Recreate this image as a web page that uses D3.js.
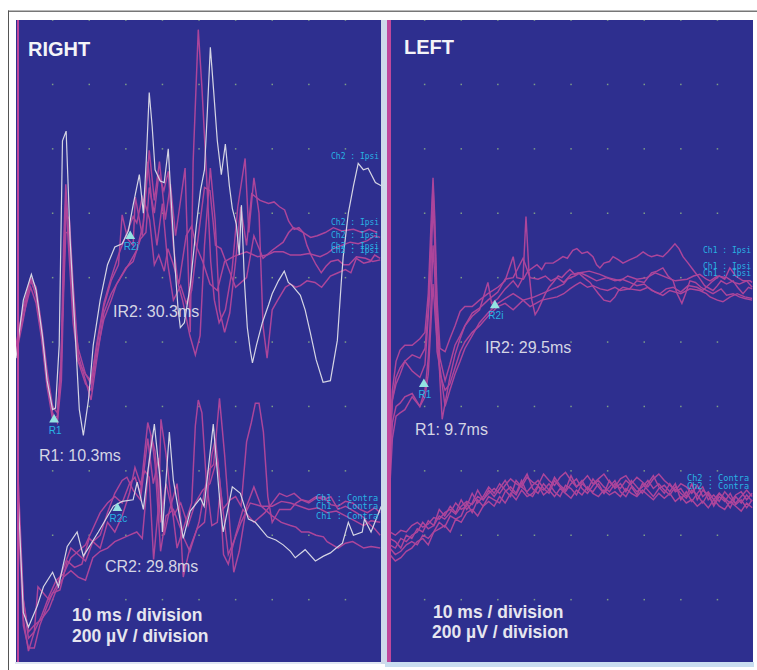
<!DOCTYPE html>
<html>
<head>
<meta charset="utf-8">
<script src="https://cdn.jsdelivr.net/npm/d3@7"></script>
<style>
body { margin: 0; background: #fff; }
text { font-family: "Liberation Sans", Arial, sans-serif; }
</style>
</head>
<body>
<svg class="chart" width="757" height="670"></svg>
<script>
// every trace is [ms, uV]
var divisionsX = [0,10,20,30,40,50,60,70,80,90,100];
var divisionsY = [1000,800,600,400,200,0,-200,-400,-600,-800];

var rightIpsiWhite = [[0,-50],[2,130],[4.2,210],[5.5,160],[7.2,20],[8.5,-120],[10,-210],[10.8,-205],[11.8,-10],[12.7,625],[13.7,655],[14.8,315],[16.2,20],[17.3,-210],[18.4,-290],[19.8,-180],[21.1,-10],[23,130],[25,240],[27,295],[29,305],[30.7,345],[32,425],[33.7,520],[34.8,400],[35.6,565],[36.4,775],[37.2,670],[38,535],[39.4,500],[40.5,495],[41.6,600],[42.4,440],[43.5,225],[44.3,100],[44.9,45],[46,60],[47.6,175],[49.3,365],[50.4,470],[51.5,535],[52.3,720],[53.1,915],[54,780],[55,625],[56.1,520],[57.2,615],[58.3,485],[59.1,415],[60.2,365],[61,270],[61.6,425],[62.4,190],[63.2,45],[64,-25],[64.6,-65],[65.7,-10],[67.3,60],[69,115],[70,150],[71.7,190],[73.3,220],[74.4,185],[75.5,175],[77.7,145],[79,100],[80.4,30],[82,-55],[83.9,-125],[85.9,-120],[87.8,5],[88.9,190],[89.4,265],[90.8,400],[92.2,485],[93.5,555],[94.9,535],[96.2,540],[98.2,495],[99.8,485]];
var rightIpsi1 = [[0,-20],[2,100],[4,190],[5.5,150],[7,30],[8.5,-110],[10,-230],[11.3,-240],[12.3,-80],[13,300],[13.6,490],[14.6,300],[15.6,100],[17,-20],[19,-100],[20.5,-120],[22,-20],[24,110],[26,190],[28,240],[29,395],[30.5,320],[32,300],[32.6,450],[34.5,330],[36.4,595],[37.8,440],[39.2,560],[40.8,380],[42.2,490],[43.6,330],[46.2,540],[47.6,30],[48.4,560],[49.8,970],[50.8,790],[52,530],[53.2,250],[54.2,130],[55.5,60],[57.2,100],[59,220],[60.6,420],[62.6,570],[63.6,340],[65,510],[66.4,400],[67.5,50],[68.6,-50],[70,100],[71.5,130],[73.6,170],[75,180],[76.5,170],[77.7,175],[79.5,190],[81.7,185],[83.5,170],[85.9,205],[88,215],[90,225],[91.5,215],[93,260],[95,245],[96.8,250],[98,270],[99.5,260]];
var rightIpsi2 = [[0,-30],[2,80],[4,170],[5.5,120],[7,10],[8.5,-140],[10,-240],[11.3,-230],[12.3,-60],[13,180],[13.6,400],[14.6,380],[15.6,180],[17,-40],[19,-120],[20.5,-180],[22,-60],[24,90],[26,150],[28,190],[30,230],[32,250],[34,320],[35.5,340],[36.4,480],[37.8,400],[39,520],[40.4,470],[41.6,530],[43,300],[44.3,180],[45.5,130],[47.5,20],[49,-40],[50.3,20],[51.5,300],[53.1,540],[54.4,380],[55.6,100],[57,30],[58.4,90],[60,250],[61.4,420],[63,300],[64.4,460],[66.7,440],[69,430],[70.5,435],[72,420],[73.4,410],[74.5,375],[76,350],[77.3,355],[78.5,340],[79.5,300],[80.6,270],[82,240],[83.4,215],[84.7,235],[86,250],[88,255],[89.5,240],[91,240],[93,265],[95.5,260],[97.5,250],[99.5,255]];
var rightIpsi3 = [[0,-40],[2,70],[4,200],[5.5,140],[7,20],[8.5,-130],[10,-220],[11.3,-250],[12.4,-120],[13,150],[13.6,340],[14.6,340],[15.6,150],[17,-60],[19,-130],[20.5,-150],[22,-40],[24,70],[26,130],[27.5,180],[31,245],[33,285],[34.8,370],[36,560],[37.2,420],[38.5,300],[40,430],[41.5,240],[43,130],[45,175],[46.5,120],[48,160],[49.5,300],[51.5,480],[53,470],[54.5,300],[56,290],[58,230],[60,170],[63,200],[65,330],[67.5,260],[70,285],[73,310],[74.5,340],[75.8,355],[77,350],[78.5,340],[80.5,325],[82.3,330],[84.5,340],[86.7,355],[89,345],[92.2,350],[94.5,340],[96.5,350],[98.7,340]];
var rightIpsi4 = [[0,-10],[2,110],[4,200],[5.5,170],[7,50],[8.5,-90],[10,-200],[11.3,-220],[12.4,-60],[13,220],[13.6,440],[14.6,250],[15.6,60],[17,-60],[19,-100],[20.5,-130],[22,-10],[24,120],[26,200],[28,270],[30,330],[32,390],[33,370],[34.5,450],[35.5,420],[36.5,380],[37.8,240],[39,270],[40.5,220],[41.5,290],[43,240],[44.5,180],[46.5,330],[48,360],[49.2,300],[51,250],[53,180],[55,160],[57,250],[59.4,265],[63,280],[66,265],[68.6,270],[70.5,280],[73,280],[75,270],[77.7,270],[80,275],[83.1,265],[85,275],[86.7,290],[89,300],[91.3,310],[93.5,305],[96,315],[98,330],[99.5,325]];

var rightContraWhite = [[0.6,-480],[2,-840],[3.4,-885],[5.8,-820],[7.5,-760],[10,-715],[11.6,-760],[14,-635],[16.7,-590],[18.4,-665],[22.5,-590],[26.6,-510],[29,-495],[32,-490],[33.1,-435],[34.8,-520],[36.1,-395],[37.8,-255],[39.4,-430],[40,-590],[41.9,-280],[43,-430],[45.7,-610],[47.6,-525],[50.4,-485],[51.4,-510],[53.9,-255],[55.8,-510],[56.6,-590],[59.1,-450],[61.3,-470],[63.5,-550],[65.4,-560],[68.7,-605],[71,-615],[73,-630],[75,-650],[76.3,-670],[79,-645],[81.8,-680],[84,-665],[85.9,-655],[87.5,-640],[89.2,-625],[90.8,-560],[92.2,-600],[94.6,-590],[95.2,-550],[97,-590],[99.8,-510]];
var rightContra1 = [[0.5,-500],[2,-880],[3.4,-950],[5,-950],[6.5,-880],[8.5,-820],[10,-780],[12,-770],[14,-680],[16,-700],[18,-690],[20,-610],[23,-640],[25,-560],[27,-590],[29,-540],[31,-470],[32.5,-390],[34,-440],[35.2,-400],[36.4,-420],[37.6,-675],[39,-500],[39.6,-240],[41,-350],[42.5,-500],[44,-640],[46,-570],[48,-500],[49,-260],[49.8,-180],[50.8,-220],[52,-430],[53.5,-570],[55,-560],[55.7,-470],[56.7,-660],[58,-690],[60,-600],[62,-520],[65,-560],[68,-530],[72,-470],[74,-480],[76,-470],[78,-490],[80,-500],[82,-485],[84,-480],[86,-505],[88,-510],[90,-495],[92,-500],[94,-520],[96,-530],[98,-515],[99.5,-530]];
var rightContra2 = [[0.5,-400],[2,-800],[3.4,-920],[5,-900],[6,-760],[7.5,-780],[9,-800],[11,-760],[13,-700],[15,-640],[17,-660],[19,-680],[21,-620],[23,-600],[25,-530],[27,-470],[29,-430],[30.3,-420],[32,-460],[34,-490],[36,-300],[37.5,-440],[39,-360],[40.5,-600],[42,-520],[44,-440],[45.5,-600],[47.5,-650],[50,-560],[52.5,-400],[54,-380],[55.6,-175],[57,-350],[58.5,-580],[59.5,-715],[61,-650],[63,-510],[65,-450],[67,-510],[70,-510],[72.5,-495],[75,-500],[77.5,-510],[80,-520],[82.5,-515],[85,-530],[87.5,-525],[90,-540],[92.5,-555],[95,-570],[97,-555],[99.5,-560]];
var rightContra3 = [[0.5,-450],[2,-860],[3.4,-960],[5,-900],[7,-850],[9,-790],[11,-740],[13,-720],[15,-670],[17,-650],[19,-630],[21,-580],[23,-530],[25,-500],[27,-480],[29,-500],[31,-440],[32.5,-420],[34,-470],[36,-250],[38,-340],[39.5,-560],[41,-440],[43,-540],[45,-500],[47,-570],[49,-500],[51,-460],[53,-440],[55,-360],[56.5,-520],[58.5,-490],[60,-480],[61.5,-510],[63,-310],[64.3,-250],[65.4,-190],[66.4,-190],[67.6,-280],[68.8,-480],[70,-560],[72,-520],[75,-520],[76.5,-500],[78,-490],[80,-495],[82,-480],[84,-490],[86,-480],[88,-520],[90,-510],[93,-530],[95,-545],[96,-560],[98,-580],[99.5,-600]];
var rightContra4 = [[0.5,-480],[2,-800],[3.4,-900],[5,-880],[7,-860],[9,-830],[11,-770],[13,-730],[15,-710],[17,-730],[19,-740],[21,-670],[23,-650],[25,-640],[27,-620],[29,-610],[31,-600],[33,-590],[34.5,-610],[36,-420],[37,-290],[38,-380],[39.5,-650],[41,-540],[43,-520],[45,-580],[45.7,-730],[47.5,-640],[49.5,-580],[51.5,-560],[53.5,-350],[54.5,-300],[56,-470],[58,-660],[59.5,-620],[61.5,-560],[64,-500],[67,-510],[70,-540],[72.5,-560],[75,-570],[76.5,-575],[78,-590],[80,-590],[82,-600],[84,-605],[85,-620],[88,-640],[90,-625],[92,-620],[95,-640],[97,-635],[99.5,-640]];

var leftIpsi1 = [[0.5,-320],[1.2,-150],[2.2,-60],[3.3,-25],[4.6,-10],[6.6,-10],[8.7,10],[10.1,30],[11,150],[11.7,350],[12.3,510],[12.8,380],[13.4,130],[14.2,-20],[15.6,-30],[16.9,10],[18.3,50],[19.7,95],[21,110],[23,110],[25,130],[27.3,150],[30,170],[32,190],[34.2,265],[35.2,200],[37,195],[38.2,220],[40.7,240],[42,225],[43,245],[45.1,245],[46.5,255],[47.8,265],[49,260],[50.5,285],[51.6,290],[53,275],[54.5,280],[56,265],[57,240],[57.9,230],[59,245],[60.5,250],[61.5,265],[63,255],[64.2,245],[66,255],[68,265],[69.7,280],[71,270],[72,265],[73.5,270],[75.1,265],[76.5,280],[78.4,305],[79.5,290],[80.6,265],[82,245],[83.3,225],[85,200],[86.5,175],[88.8,160],[90,175],[91,190],[92.5,180],[94.3,190],[95.5,170],[97,150],[98.5,170],[99.5,165]];
var leftIpsi2 = [[0.5,-350],[1.2,-180],[2.2,-110],[3.3,-80],[4.6,-60],[6.6,-40],[8.7,-50],[10.1,-20],[11,100],[11.7,300],[12.3,490],[12.8,330],[13.4,100],[14.2,-120],[14.8,-240],[15.6,-190],[16.9,-110],[18.3,-40],[19.7,10],[21,50],[23,80],[25,100],[27.3,185],[28.3,120],[30,135],[32,165],[34.2,190],[35.5,170],[36.9,200],[37.7,390],[38.5,220],[39.3,130],[40.2,85],[41,100],[43,150],[44,170],[45.1,185],[46.5,205],[47.5,200],[48.7,215],[49.7,225],[51,210],[52,215],[53.5,200],[55.2,185],[56.5,165],[57.5,150],[59,130],[60.7,125],[62,140],[63,160],[64.2,170],[66,165],[68,190],[70,185],[72,215],[73.5,220],[75.1,230],[76.5,205],[77.9,190],[79,150],[80.3,120],[81.3,150],[82.5,190],[84,185],[85.5,170],[87,160],[88.8,150],[91,165],[92.5,145],[94.3,150],[96,140],[97.5,135],[99.5,130]];
var leftIpsi3 = [[0.5,-300],[1.2,-180],[2.2,-130],[3.3,-100],[4.6,-60],[6.6,-90],[8.7,-110],[10.1,-70],[11,80],[11.7,220],[12.3,430],[12.8,300],[13.4,50],[14.2,-50],[15.6,-120],[16.9,-70],[18.3,-10],[19.7,20],[21,50],[23,90],[25,105],[27.3,130],[30,155],[32,195],[34.2,200],[36.9,260],[38.8,200],[41,195],[43,205],[44.5,190],[46.2,200],[48,185],[50,210],[52.5,215],[54.5,205],[57,190],[59.8,200],[62,190],[64,195],[66.1,185],[68,175],[70,180],[72,160],[74.3,150],[76,165],[77.9,170],[80,155],[82,175],[84.4,170],[86,160],[88.8,190],[90.5,205],[92,195],[93.4,230],[95,205],[97,190],[98.9,190],[99.5,185]];
var leftIpsi4 = [[0.5,-400],[1.2,-250],[2.2,-200],[3.3,-190],[4.6,-170],[6.6,-160],[8.7,-200],[10.1,-150],[11,-50],[11.7,100],[12.3,300],[12.8,200],[13.4,-30],[14.2,-80],[15.6,-200],[16.9,-150],[18.3,-100],[19.7,-60],[21,-20],[23,20],[25,60],[27.3,90],[30,120],[32,135],[34.2,150],[36.9,130],[40,140],[43,155],[45,165],[46.2,170],[48,180],[49,195],[51,205],[52.5,215],[55,220],[57.9,210],[60,200],[63.4,190],[65.5,205],[68,195],[70.8,200],[73,215],[76.2,200],[78.5,190],[81.7,195],[83.5,205],[85.2,210],[87,195],[88,190],[90,205],[92.6,200],[94.5,185],[96,180],[98,190],[99.5,170]];
var leftIpsi5 = [[0.5,-450],[1.2,-300],[2.2,-230],[3.3,-220],[4.6,-210],[6.6,-170],[8.7,-200],[10.1,-170],[11,-100],[11.7,50],[12.3,180],[13,60],[14.2,-100],[15.6,-150],[16.9,-130],[18.3,-80],[19.7,-30],[21,0],[23,30],[25,50],[27.3,80],[30,110],[32,120],[34.2,100],[36.9,130],[38.8,110],[42,130],[46.2,140],[48,150],[49.7,165],[51,175],[52.5,185],[54.5,170],[56,175],[58,165],[60,160],[62,170],[63.4,160],[66,165],[68.9,160],[71,170],[73,155],[75.1,145],[77,160],[80,150],[82.5,165],[85.2,160],[87,150],[88,140],[90,130],[91.5,125],[93.5,140],[95.4,150],[97.5,140],[99.5,135]];

var leftContraTimes = [0.5,2,3.5,5,6.5,8,9.5,11,12.5,14,15.5,17,18.5,20,21.5,23,24.5,26,27.5,29,30.5,32,33.5,35,36.5,38,39.5,41,42.5,44,45.5,47,48.5,50,51.5,53,54.5,56,57.5,59,60.5,62,63.5,65,66.5,68,69.5,71,72.5,74,75.5,77,78.5,80,81.5,83,84.5,86,87.5,89,90.5,92,93.5,95,96.5,98,99.5];
var leftContra1 = [-590,-600,-585,-590,-570,-560,-575,-565,-545,-550,-530,-520,-535,-510,-495,-505,-480,-490,-470,-455,-470,-445,-425,-440,-450,-420,-435,-445,-410,-430,-445,-420,-405,-430,-450,-435,-415,-440,-425,-410,-435,-450,-425,-415,-440,-420,-435,-450,-425,-410,-430,-445,-460,-440,-450,-470,-445,-480,-465,-490,-470,-485,-500,-475,-465,-490,-470];
var leftContra2 = [-660,-680,-670,-650,-640,-620,-610,-630,-590,-580,-570,-590,-550,-560,-530,-520,-540,-510,-495,-510,-480,-500,-470,-490,-460,-480,-470,-445,-475,-460,-480,-455,-470,-485,-460,-475,-450,-470,-480,-460,-475,-465,-480,-455,-470,-480,-460,-475,-490,-470,-485,-470,-495,-480,-500,-490,-510,-495,-515,-490,-510,-520,-495,-510,-525,-500,-515];
var leftContra3 = [-630,-640,-610,-620,-600,-590,-560,-580,-570,-540,-550,-530,-500,-520,-510,-470,-500,-480,-450,-470,-440,-460,-480,-430,-450,-465,-445,-430,-455,-470,-430,-450,-465,-440,-425,-455,-470,-445,-430,-450,-465,-440,-455,-430,-445,-465,-450,-430,-455,-440,-460,-475,-450,-470,-485,-460,-475,-500,-470,-510,-480,-495,-470,-505,-490,-515,-490];
var leftContra4 = [-610,-620,-640,-600,-610,-580,-590,-555,-570,-520,-540,-510,-530,-490,-520,-500,-460,-490,-460,-480,-455,-430,-460,-475,-440,-410,-455,-470,-440,-460,-420,-445,-460,-415,-450,-430,-460,-425,-450,-470,-430,-455,-440,-465,-430,-450,-470,-440,-415,-450,-470,-440,-465,-455,-480,-440,-490,-460,-475,-505,-470,-490,-515,-480,-500,-475,-495];
var leftContra5 = [-640,-660,-650,-630,-620,-630,-600,-610,-590,-560,-575,-540,-550,-540,-500,-530,-490,-510,-480,-490,-500,-465,-450,-470,-430,-470,-480,-450,-460,-440,-465,-480,-445,-455,-475,-440,-455,-465,-440,-470,-450,-430,-465,-480,-450,-475,-440,-460,-480,-455,-445,-465,-440,-490,-465,-495,-470,-450,-490,-475,-495,-465,-485,-500,-480,-460,-480];

var rightMarkers = [["R1",10.4,-235],["R2i",31.2,335],["R2c",27.7,-510]];
var leftMarkers = [["R1",9.8,-125],["R2i",29.2,120]];

var azul = "#2e2f8f";
var rosa = "#ad459b";
var branco = "#d5d5e4";

var chart = d3.select(".chart");

// frame and the light strips around the panels
chart.append("rect").attr("x",8).attr("y",10.5).attr("width",749).attr("height",1.5).attr("fill","#777");
chart.append("rect").attr("x",8).attr("y",10.5).attr("width",1).attr("height",660).attr("fill","#555");
chart.append("rect").attr("x",15).attr("y",662).attr("width",367).attr("height",2).attr("fill","#dfe6f2");
chart.append("rect").attr("x",381).attr("y",20).attr("width",6).attr("height",644).attr("fill","#cfd9ea");
chart.append("rect").attr("x",385).attr("y",662).attr("width",369).attr("height",5).attr("fill","#c9def0");

var filtro = chart.append("defs").append("filter").attr("id","borrao");
filtro.append("feGaussianBlur").attr("stdDeviation",0.45);

function desenha_painel(left, right, ipsi, contra, markers){
	var x = d3.scaleLinear().domain([0,100]).range([left,left+366]);
	var y = d3.scaleLinear().domain([1000,-1000]).range([20,664]);
	var id = "clip" + left;

	chart.append("clipPath").attr("id",id)
		.append("rect").attr("x",left).attr("y",20).attr("width",right-left).attr("height",642);

	chart.append("rect")
		.attr("x",left).attr("y",20)
		.attr("width",right-left).attr("height",642)
		.attr("fill",azul);

	var g = chart.append("g").attr("clip-path","url(#"+id+")");

	// grid dots, one per division
	divisionsX.slice(1,10).forEach(function(t){
		g.selectAll(null)
			.data(divisionsY)
			.enter().append("rect")
			.attr("x",x(t)-0.7)
			.attr("y",function(d) { return y(d)-0.7; })
			.attr("width",1.5)
			.attr("height",1.5)
			.attr("fill","#7c9c88");
	});

	var linha = d3.line()
		.x(function(d) { return x(d[0]); })
		.y(function(d) { return y(d[1]); });

	var traces = g.append("g").attr("filter","url(#borrao)");

	traces.selectAll("path")
		.data(ipsi.concat(contra))
		.enter().append("path")
		.attr("d",function(d) { return linha(d.pts); })
		.attr("fill","none")
		.attr("stroke",function(d) { return d.cor; })
		.attr("stroke-width",function(d) { return d.cor == branco ? 1.2 : 1.45; });

	// markers
	g.selectAll(".marker")
		.data(markers)
		.enter().append("path")
		.attr("class","marker")
		.attr("d",d3.symbol().type(d3.symbolTriangle).size(42))
		.attr("transform",function(d) { return "translate(" + x(d[1]) + "," + (y(d[2])+2) + ")"; })
		.attr("fill","#93e3e2");

	g.selectAll(".markerlabel")
		.data(markers)
		.enter().append("text")
		.attr("class","markerlabel")
		.attr("x",function(d) { return x(d[1])+1; })
		.attr("y",function(d) { return y(d[2])+16; })
		.attr("text-anchor","middle")
		.style("font-size","10px")
		.attr("fill","#29b3e3")
		.text(function(d) { return d[0]; });

	// thin marker at stimulus
	chart.append("rect").attr("x",left+(left<100?1:-1)).attr("y",20)
		.attr("width",left<100?2:4).attr("height",642).attr("fill","#c0479b");
}

function traco(pts, cor){
	return {pts: pts, cor: cor};
}

function pares(valores){
	return valores.map(function(v,i) { return [leftContraTimes[i],v]; });
}

desenha_painel(16, 381,
	[traco(rightIpsi1,rosa),traco(rightIpsi2,rosa),traco(rightIpsi3,rosa),traco(rightIpsi4,rosa),traco(rightIpsiWhite,branco)],
	[traco(rightContra1,rosa),traco(rightContra2,rosa),traco(rightContra3,rosa),traco(rightContra4,rosa),traco(rightContraWhite,branco)],
	rightMarkers);

desenha_painel(388, 753,
	[traco(leftIpsi1,rosa),traco(leftIpsi2,rosa),traco(leftIpsi3,rosa),traco(leftIpsi4,rosa),traco(leftIpsi5,rosa)],
	[traco(pares(leftContra1),rosa),traco(pares(leftContra2),rosa),traco(pares(leftContra3),rosa),traco(pares(leftContra4),rosa),traco(pares(leftContra5),rosa)],
	leftMarkers);

// text
var titulos = [["RIGHT",28,56],["LEFT",404,54]];
var medidas = [["IR2: 30.3ms",113,317],["R1: 10.3ms",39,461],["CR2: 29.8ms",105,572],["IR2: 29.5ms",485,353],["R1: 9.7ms",415,435]];
var escalas = [["10 ms / division",72,621],["200 µV / division",72,642],["10 ms / division",433,618],["200 µV / division",432,638]];
var canaisIpsi = [["Ch2 : Ipsi",331,159],["Ch2 : Ipsi",331,253],["Ch2 : Ipsi",331,249],["Ch2 : Ipsi",331,238],["Ch2 : Ipsi",331,225],
	["Ch1 : Ipsi",703,276],["Ch1 : Ipsi",703,269],["Ch1 : Ipsi",703,253]];
var canaisContra = [["Ch1 : Contra",316,509],["Ch1 : Contra",316,519],["Ch1 : Contra",316,501],
	["Ch2 : Contra",687,489],["Ch2 : Contra",687,481]];

function escreve(dados, tamanho, peso, cor, fonte){
	chart.append("g").selectAll("text")
		.data(dados)
		.enter().append("text")
		.attr("x",function(d) { return d[1]; })
		.attr("y",function(d) { return d[2]; })
		.style("font-size",tamanho+"px")
		.style("font-weight",peso)
		.style("font-family",fonte)
		.attr("fill",cor)
		.text(function(d) { return d[0]; });
}

escreve(titulos,20,"bold","#f4f4f8","Liberation Sans");
escreve(medidas,16,"normal","#d5d5e4","Liberation Sans");
escreve(escalas,17.5,"bold","#e6e6ef","Liberation Sans");
escreve(canaisIpsi,8,"normal","#29b3e3","DejaVu Sans Mono");
escreve(canaisContra,8.6,"normal","#29b3e3","DejaVu Sans Mono");
</script>
</body>
</html>
